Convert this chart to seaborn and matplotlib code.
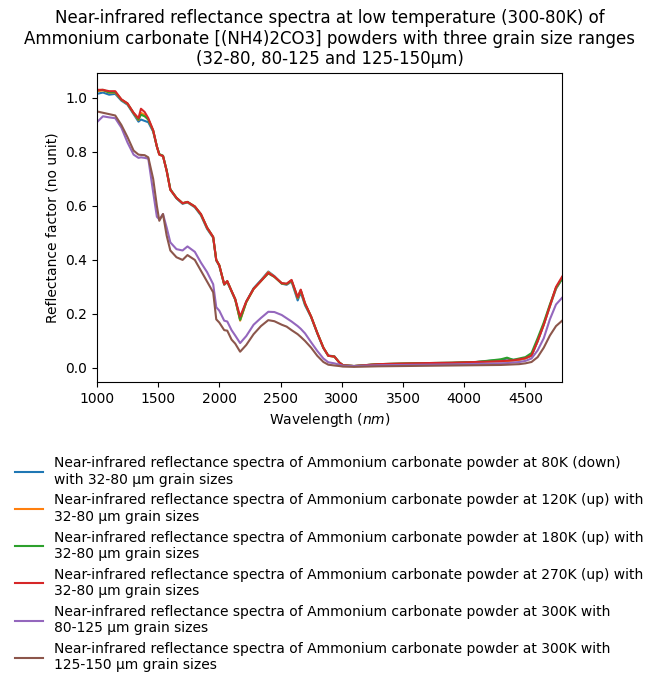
import numpy as np
import pandas as pd
import matplotlib
matplotlib.use("Agg")
import matplotlib.pyplot as plt
import seaborn as sns

# Wavelength grid (nm)
wavelength = [1000, 1050, 1100, 1150, 1200, 1250, 1300, 1340, 1360, 1390,
              1420, 1460, 1490, 1510, 1540, 1570, 1600, 1650, 1700, 1740,
              1800, 1850, 1900, 1950, 1975, 2000, 2040, 2065, 2100, 2130,
              2170, 2220, 2280, 2340, 2400, 2450, 2510, 2550, 2590, 2640,
              2665, 2700, 2750, 2800, 2850, 2890, 2940, 2980, 3010, 3100,
              3300, 3500, 3700, 3900, 4100, 4300, 4350, 4400, 4450, 4500,
              4550, 4600, 4650, 4700, 4750, 4800]

# Reflectance of each spectrum
refl_80k = [1.015, 1.02, 1.012, 1.015, 0.99, 0.975, 0.94, 0.912, 0.92, 0.915,
            0.91, 0.875, 0.82, 0.79, 0.785, 0.73, 0.66, 0.628, 0.608, 0.613,
            0.595, 0.565, 0.515, 0.482, 0.398, 0.378, 0.308, 0.318, 0.283, 0.252,
            0.18, 0.245, 0.295, 0.325, 0.357, 0.34, 0.312, 0.308, 0.32, 0.25,
            0.28, 0.232, 0.188, 0.128, 0.073, 0.046, 0.043, 0.02, 0.01, 0.007,
            0.014, 0.016, 0.018, 0.019, 0.022, 0.03, 0.035, 0.03, 0.03, 0.036,
            0.045, 0.098, 0.16, 0.228, 0.293, 0.33]
refl_120k = [1.025, 1.028, 1.02, 1.02, 0.993, 0.978, 0.943, 0.918, 0.945, 0.937,
             0.92, 0.878, 0.82, 0.79, 0.785, 0.73, 0.66, 0.63, 0.61, 0.614,
             0.597, 0.568, 0.518, 0.484, 0.4, 0.38, 0.309, 0.32, 0.284, 0.254,
             0.175, 0.243, 0.292, 0.322, 0.355, 0.338, 0.313, 0.31, 0.323, 0.258,
             0.286, 0.237, 0.19, 0.13, 0.075, 0.045, 0.042, 0.02, 0.01, 0.007,
             0.014, 0.016, 0.018, 0.019, 0.022, 0.024, 0.025, 0.027, 0.03, 0.035,
             0.046, 0.1, 0.162, 0.23, 0.295, 0.332]
refl_180k = [1.028, 1.03, 1.02, 1.022, 0.994, 0.979, 0.944, 0.92, 0.938, 0.932,
             0.92, 0.879, 0.82, 0.792, 0.786, 0.732, 0.662, 0.63, 0.61, 0.615,
             0.598, 0.569, 0.52, 0.485, 0.4, 0.38, 0.31, 0.321, 0.285, 0.255,
             0.178, 0.244, 0.293, 0.322, 0.35, 0.337, 0.313, 0.311, 0.324, 0.26,
             0.288, 0.238, 0.19, 0.13, 0.075, 0.045, 0.042, 0.02, 0.01, 0.007,
             0.014, 0.016, 0.018, 0.019, 0.022, 0.032, 0.038, 0.03, 0.035, 0.04,
             0.055, 0.11, 0.168, 0.235, 0.297, 0.33]
refl_270k = [1.03, 1.03, 1.025, 1.025, 0.995, 0.98, 0.945, 0.925, 0.96, 0.948,
             0.925, 0.88, 0.82, 0.79, 0.785, 0.73, 0.66, 0.63, 0.61, 0.615,
             0.598, 0.57, 0.52, 0.485, 0.4, 0.38, 0.31, 0.322, 0.285, 0.255,
             0.19, 0.246, 0.293, 0.322, 0.352, 0.338, 0.314, 0.312, 0.326, 0.262,
             0.29, 0.24, 0.19, 0.13, 0.075, 0.045, 0.042, 0.02, 0.01, 0.007,
             0.014, 0.016, 0.018, 0.019, 0.022, 0.025, 0.027, 0.028, 0.032, 0.036,
             0.046, 0.1, 0.16, 0.23, 0.3, 0.338]
refl_300k_80_125 = [0.91, 0.932, 0.928, 0.925, 0.89, 0.835, 0.79, 0.778, 0.78, 0.778,
                    0.775, 0.65, 0.56, 0.55, 0.57, 0.52, 0.465, 0.44, 0.435, 0.45,
                    0.43, 0.39, 0.355, 0.31, 0.225, 0.212, 0.175, 0.172, 0.14, 0.12,
                    0.092, 0.118, 0.16, 0.185, 0.208, 0.207, 0.196, 0.184, 0.172, 0.155,
                    0.145, 0.128, 0.095, 0.063, 0.035, 0.021, 0.017, 0.012, 0.008, 0.007,
                    0.01, 0.011, 0.012, 0.013, 0.015, 0.017, 0.018, 0.02, 0.022, 0.026,
                    0.035, 0.065, 0.11, 0.18, 0.235, 0.26]
refl_300k_125_150 = [0.95, 0.945, 0.94, 0.935, 0.9, 0.855, 0.805, 0.79, 0.789, 0.788,
                     0.78, 0.7, 0.6, 0.545, 0.57, 0.49, 0.435, 0.41, 0.4, 0.418,
                     0.4, 0.36, 0.32, 0.28, 0.18, 0.168, 0.14, 0.138, 0.105, 0.09,
                     0.06, 0.085, 0.125, 0.155, 0.177, 0.173, 0.16, 0.153, 0.14, 0.125,
                     0.115, 0.1, 0.075, 0.045, 0.022, 0.012, 0.009, 0.007, 0.005, 0.004,
                     0.006, 0.007, 0.008, 0.009, 0.01, 0.011, 0.012, 0.013, 0.014, 0.017,
                     0.022, 0.04, 0.075, 0.12, 0.155, 0.175]

labels = [
    "Near-infrared reflectance spectra of Ammonium carbonate powder at 80K (down)\nwith 32-80 µm grain sizes",
    "Near-infrared reflectance spectra of Ammonium carbonate powder at 120K (up) with\n32-80 µm grain sizes",
    "Near-infrared reflectance spectra of Ammonium carbonate powder at 180K (up) with\n32-80 µm grain sizes",
    "Near-infrared reflectance spectra of Ammonium carbonate powder at 270K (up) with\n32-80 µm grain sizes",
    "Near-infrared reflectance spectra of Ammonium carbonate powder at 300K with\n80-125 µm grain sizes",
    "Near-infrared reflectance spectra of Ammonium carbonate powder at 300K with\n125-150 µm grain sizes",
]
series = [refl_80k, refl_120k, refl_180k, refl_270k, refl_300k_80_125, refl_300k_125_150]

frames = []
for lab, vals in zip(labels, series):
    frames.append(pd.DataFrame({"wavelength": wavelength, "reflectance": vals, "spectrum": lab}))
df = pd.concat(frames, ignore_index=True)

# plain matplotlib look (black text, boxed axes)
plt.rcParams["font.family"] = ["DejaVu Sans"]

fig = plt.figure(figsize=(6.59, 6.87), dpi=100)
ax = fig.add_axes([0.147, 0.444, 0.706, 0.45])

sns.lineplot(data=df, x="wavelength", y="reflectance", hue="spectrum",
             hue_order=labels, palette="tab10", linewidth=1.5, ax=ax, legend=True)

ax.set_xlim(1000, 4800)
ax.set_ylim(-0.052, 1.093)
ax.set_xticks([1000, 1500, 2000, 2500, 3000, 3500, 4000, 4500])
ax.set_xlabel("Wavelength ($nm$)")
ax.set_ylabel("Reflectance factor (no unit)")
ax.set_title("Near-infrared reflectance spectra at low temperature (300-80K) of\n"
             "Ammonium carbonate [(NH4)2CO3] powders with three grain size ranges\n"
             "(32-80, 80-125 and 125-150µm)", fontsize=12)

handles, labs = ax.get_legend_handles_labels()
ax.get_legend().remove()
fig.legend(handles, labs, loc="upper center", bbox_to_anchor=(0.5, 0.354),
           frameon=False, fontsize=10)

fig.savefig("out.png", dpi=100)
